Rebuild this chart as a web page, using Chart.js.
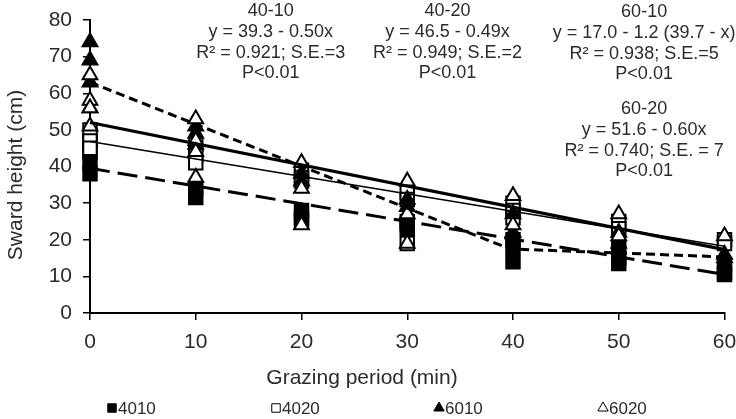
<!DOCTYPE html>
<html>
<head>
<meta charset="utf-8">
<script src="https://cdn.jsdelivr.net/npm/chart.js@4/dist/chart.umd.min.js"></script>
<style>
  html, body { margin: 0; padding: 0; background: #fff; }
  #chart { display: block; }
</style>
</head>
<body>
<canvas id="chart" width="736" height="419"></canvas>
<script>
// grazing times (min) on the x axis
const grazingMinutes = [0, 10, 20, 30, 40, 50, 60];
const yTicks = [0, 10, 20, 30, 40, 50, 60, 70, 80];

// sward height readings (cm), one inner array per grazing time
const height4010 = [[47, 44, 41, 38], [34, 31.5], [28, 26, 25], [25, 24, 23], [20, 18, 14], [18, 15, 13.5], [13, 11, 10.5]];
const height4020 = [[50, 47, 45], [46, 43, 41], [39, 37, 36], [33, 31, 19], [30, 28, 26], [25, 23], [20, 19]];
const height6010 = [[74, 69, 63, 56], [51, 49, 46], [38, 36], [31, 29], [27, 22], [22, 19], [16, 15]];
const height6020 = [[65, 58, 56, 51], [53, 47, 44, 37], [41, 34, 24], [36, 27, 19], [32, 24], [27, 21], [21]];

// fitted regression lines
const fit4010X = [0, 60];
const fit4010Y = [39.5, 10.5];
const fit4020X = [0, 60];
const fit4020Y = [46.8, 18.2];
const fit6010X = [0, 39.7, 60];
const fit6010Y = [63, 17.5, 15.3];
const fit6020X = [0, 60];
const fit6020Y = [52, 17.3];

const seriesNames = ["4010", "4020", "6010", "6020"];

const equationLabels = [
    { x: 17.1, y: 82.4, lines: ["40-10", "y = 39.3 - 0.50x", "R² = 0.921; S.E.=3", "P<0.01"] },
    { x: 33.8, y: 82.4, lines: ["40-20", "y = 46.5 - 0.49x", "R² = 0.949; S.E.=2", "P<0.01"] },
    { x: 52.4, y: 82.1, lines: ["60-10", "y = 17.0 - 1.2 (39.7 - x)", "R² = 0.938; S.E.=5", "P<0.01"] },
    { x: 52.4, y: 55.6, lines: ["60-20", "y = 51.6 - 0.60x", "R² = 0.740; S.E. = 7", "P<0.01"] }
];

const FONT = "'Liberation Sans', Arial, sans-serif";
const TEXT_COLOR = "#2b2b2b";

function toPoints(groups) {
    const pts = [];
    groups.forEach((vals, i) => {
        vals.forEach((v) => pts.push({ x: grazingMinutes[i], y: v }));
    });
    return pts;
}

function toLine(xs, ys) {
    return xs.map((x, i) => ({ x, y: ys[i] }));
}

function markerSet(label, groups, style, filled, radius, order) {
    return {
        label,
        data: toPoints(groups),
        pointStyle: style,
        pointRadius: radius,
        pointBackgroundColor: filled ? "#000" : "#fff",
        pointBorderColor: "#000",
        pointBorderWidth: 2,
        showLine: false,
        clip: false,
        order
    };
}

function fitLine(xs, ys, width, dash) {
    return {
        label: "",
        data: toLine(xs, ys),
        showLine: true,
        borderColor: "#000",
        borderWidth: width,
        borderDash: dash,
        pointRadius: 0,
        fill: false,
        clip: false,
        order: 0
    };
}

const annotationPlugin = {
    id: "annotations",
    afterDraw(chart) {
        const { ctx, scales } = chart;
        ctx.save();
        ctx.fillStyle = TEXT_COLOR;
        ctx.textAlign = "center";
        ctx.textBaseline = "middle";

        // equation blocks
        ctx.font = "18px " + FONT;
        equationLabels.forEach((blk) => {
            const cx = scales.x.getPixelForValue(blk.x);
            const cy = scales.y.getPixelForValue(blk.y);
            blk.lines.forEach((t, i) => ctx.fillText(t, cx, cy + i * 20.7));
        });

        // axis titles
        ctx.font = "21px " + FONT;
        ctx.fillText("Grazing period (min)", 362, 378);
        ctx.save();
        ctx.translate(16, 175);
        ctx.rotate(-Math.PI / 2);
        ctx.fillText("Sward height (cm)", 0, 0);
        ctx.restore();

        // legend (markers only)
        const legendX = [112, 276, 439, 603];
        const styles = [
            { pointStyle: "rect", radius: 6, fill: "#000" },
            { pointStyle: "rect", radius: 6, fill: "#fff" },
            { pointStyle: "triangle", radius: 6, fill: "#000" },
            { pointStyle: "triangle", radius: 6, fill: "#fff" }
        ];
        ctx.font = "17px " + FONT;
        ctx.textAlign = "left";
        seriesNames.forEach((name, i) => {
            const s = styles[i];
            ctx.fillStyle = s.fill;
            ctx.strokeStyle = "#000";
            ctx.lineWidth = 1;
            Chart.helpers.drawPoint(ctx, { pointStyle: s.pointStyle, radius: s.radius, rotation: 0, borderWidth: 1 }, legendX[i], 408);
            ctx.fillStyle = TEXT_COLOR;
            ctx.fillText(name, legendX[i] + 6, 409);
        });
        ctx.restore();
    }
};

new Chart(document.getElementById("chart"), {
    type: "scatter",
    data: {
        datasets: [
            fitLine(fit4010X, fit4010Y, 3, [20, 8]),
            fitLine(fit4020X, fit4020Y, 1.5, []),
            fitLine(fit6010X, fit6010Y, 3, [9, 5]),
            fitLine(fit6020X, fit6020Y, 3.2, []),
            markerSet(seriesNames[0], height4010, "rect", true, 9.5, 4),
            markerSet(seriesNames[1], height4020, "rect", false, 9.5, 3),
            markerSet(seriesNames[2], height6010, "triangle", true, 8.5, 2),
            markerSet(seriesNames[3], height6020, "triangle", false, 8.5, 1)
        ]
    },
    options: {
        responsive: false,
        animation: false,
        devicePixelRatio: 1,
        layout: { padding: { left: 0, right: 11, top: 20, bottom: 0 } },
        plugins: {
            legend: { display: false },
            tooltip: { enabled: false }
        },
        scales: {
            x: {
                type: "linear",
                min: 0,
                max: 60,
                afterFit: (s) => {
                    s.height = 106;
                    s.paddingLeft = 0;
                    s.paddingRight = 0;
                },
                afterBuildTicks: (s) => { s.ticks = grazingMinutes.map((v) => ({ value: v })); },
                border: { display: true, color: "#000", width: 2 },
                grid: { drawOnChartArea: false, drawTicks: true, tickLength: 7, color: "#000", lineWidth: 1.5 },
                ticks: { color: TEXT_COLOR, font: { family: FONT, size: 21 }, padding: 10, maxRotation: 0 }
            },
            y: {
                min: 0,
                max: 80,
                afterFit: (s) => {
                    s.width = 90;
                    s.paddingTop = 0;
                    s.paddingBottom = 0;
                },
                afterBuildTicks: (s) => { s.ticks = yTicks.map((v) => ({ value: v })); },
                border: { display: true, color: "#000", width: 2 },
                grid: { drawOnChartArea: false, drawTicks: true, tickLength: 7, color: "#000", lineWidth: 1.5 },
                ticks: { color: TEXT_COLOR, font: { family: FONT, size: 21 }, padding: 11 }
            }
        }
    },
    plugins: [annotationPlugin]
});
</script>
</body>
</html>
